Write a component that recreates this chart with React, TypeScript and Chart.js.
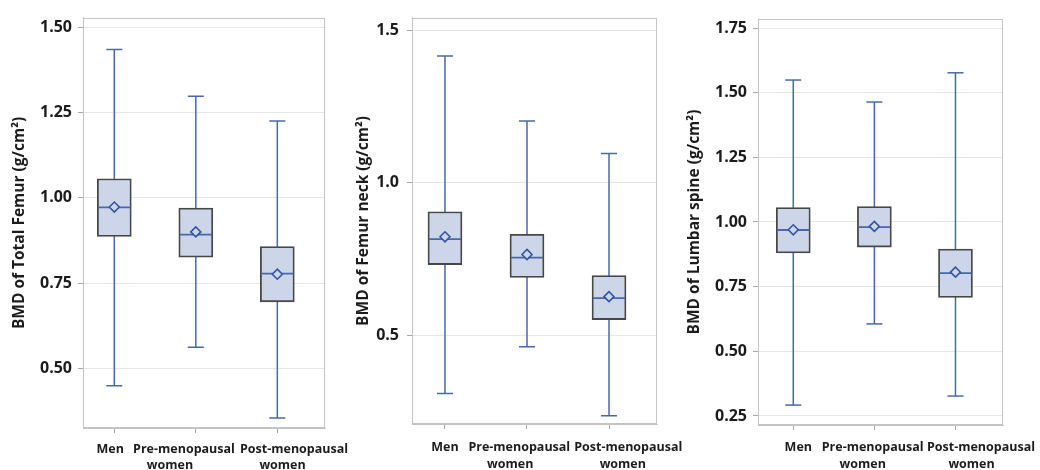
import React, { useEffect, useRef } from "react";
import { Chart, registerables } from "chart.js";

Chart.register(...registerables);

// ---- Data ----
const categories = ["Men", "Pre-menopausal women", "Post-menopausal women"];
const labelLine1 = ["Men", "Pre-menopausal", "Post-menopausal"];
const labelLine2 = ["", "women", "women"];

// BMD of Total Femur
const femurMin = [0.449, 0.562, 0.354];
const femurQ1 = [0.887, 0.826, 0.695];
const femurMedian = [0.972, 0.892, 0.778];
const femurQ3 = [1.056, 0.970, 0.857];
const femurMax = [1.435, 1.298, 1.225];
const femurMean = [0.973, 0.900, 0.776];
const femurTicks = [0.5, 0.75, 1.0, 1.25, 1.5];

// BMD of Femur neck
const neckMin = [0.310, 0.463, 0.237];
const neckQ1 = [0.732, 0.690, 0.552];
const neckMedian = [0.815, 0.755, 0.622];
const neckQ3 = [0.905, 0.831, 0.696];
const neckMax = [1.415, 1.202, 1.096];
const neckMean = [0.823, 0.765, 0.627];
const neckTicks = [0.5, 1.0, 1.5];

// BMD of Lumbar spine
const spineMin = [0.292, 0.606, 0.327];
const spineQ1 = [0.880, 0.903, 0.708];
const spineMedian = [0.969, 0.980, 0.802];
const spineQ3 = [1.056, 1.060, 0.895];
const spineMax = [1.549, 1.464, 1.577];
const spineMean = [0.970, 0.983, 0.806];
const spineTicks = [0.25, 0.5, 0.75, 1.0, 1.25, 1.5, 1.75];

// ---- Styles ----
const FONT = "'Open Sans', 'DejaVu Sans', sans-serif";
const TEXT = "#1c1c1c";
const BLUE = "#4868ad";
const BLUE_DARK = "#3553a3";
const BOX_FILL = "#cdd6e8";
const BOX_EDGE = "#474747";
const GRID = "#e6e6e6";
const FRAME = "#c4c4c4";
const TICK = "#a8a8a8";
const XFONT = 12.5;
const XLINE = 16;

type Panel = {
  title: string;
  min: number[];
  q1: number[];
  median: number[];
  q3: number[];
  max: number[];
  mean: number[];
  ticks: number[];
  decimals: number;
  yMin: number;
  yMax: number;
  xMin: number;
  xMax: number;
  line1At: number[];
  line2At: number[];
  left: number;
  width: number;
  plotLeft: number;
  plotRight: number;
  plotTop: number;
  plotBottom: number;
  line1Y: number;
  line2Y: number;
  titlePad: number;
  tickPad: number;
};

const panels: Panel[] = [
  {
    title: "BMD of Total Femur (g/cm²)",
    min: femurMin, q1: femurQ1, median: femurMedian, q3: femurQ3, max: femurMax, mean: femurMean,
    ticks: femurTicks, decimals: 2, yMin: 0.325, yMax: 1.528, xMin: -0.384, xMax: 2.585,
    line1At: [-0.05, 0.855, 2.205], line2At: [0, 0.683, 2.064],
    left: 0, width: 355, plotLeft: 83, plotRight: 325, plotTop: 17, plotBottom: 428,
    line1Y: 449.5, line2Y: 465.5,
    titlePad: 10, tickPad: 6,
  },
  {
    title: "BMD of Femur neck (g/cm²)",
    min: neckMin, q1: neckQ1, median: neckMedian, q3: neckQ3, max: neckMax, mean: neckMean,
    ticks: neckTicks, decimals: 1, yMin: 0.21, yMax: 1.54, xMin: -0.402, xMax: 2.585,
    line1At: [0.0, 0.906, 2.235], line2At: [0, 0.796, 2.168],
    left: 345, width: 350, plotLeft: 412, plotRight: 657, plotTop: 14, plotBottom: 424,
    line1Y: 447.5, line2Y: 464,
    titlePad: 9, tickPad: 8,
  },
  {
    title: "BMD of Lumbar spine (g/cm²)",
    min: spineMin, q1: spineQ1, median: spineMedian, q3: spineQ3, max: spineMax, mean: spineMean,
    ticks: spineTicks, decimals: 2, yMin: 0.215, yMax: 1.785, xMin: -0.435, xMax: 2.586,
    line1At: [0.062, 0.979, 2.315], line2At: [0, 0.856, 2.198],
    left: 680, width: 360, plotLeft: 758, plotRight: 1003, plotTop: 19, plotBottom: 425,
    line1Y: 447.5, line2Y: 464,
    titlePad: 5, tickPad: 6,
  },
];

const framePlugin = {
  id: "frame",
  beforeDatasetsDraw(chart: any) {
    const { ctx, chartArea } = chart;
    ctx.save();
    ctx.strokeStyle = FRAME;
    ctx.lineWidth = 1;
    ctx.strokeRect(
      Math.round(chartArea.left) + 0.5,
      Math.round(chartArea.top) + 0.5,
      Math.round(chartArea.right - chartArea.left) - 1,
      Math.round(chartArea.bottom - chartArea.top) - 1
    );
    ctx.restore();
  },
};

function buildConfig(p: Panel): any {
  const idx = categories.map((_, i) => i);
  const whiskerData: any[] = [];
  idx.forEach((i) => {
    whiskerData.push({ x: i, y: p.min[i] });
    whiskerData.push({ x: i, y: p.max[i] });
    whiskerData.push({ x: i, y: null });
  });
  const capData: any[] = [];
  idx.forEach((i) => {
    capData.push({ x: i, y: p.min[i] });
    capData.push({ x: i, y: p.max[i] });
  });

  const tickAxisH = 5;
  const half = XLINE / 2;
  const line1Top = p.plotBottom + tickAxisH;
  const line1Pad = p.line1Y - half - line1Top;
  const line1H = p.line2Y - half - line1Top;
  const line2H = 470 - p.plotBottom - tickAxisH - line1H;

  const noPad = (scale: any) => {
    scale.paddingLeft = 0;
    scale.paddingRight = 0;
    scale.paddingTop = 0;
    scale.paddingBottom = 0;
  };

  const labelAxis = (weight: number, at: number[], texts: string[], pad: number, h: number) => {
    const shown = idx.filter((i) => texts[i] !== "");
    return {
      type: "linear",
      position: "bottom",
      weight,
      offset: false,
      min: p.xMin,
      max: p.xMax,
      afterBuildTicks: (scale: any) => {
        scale.ticks = shown.map((i) => ({ value: at[i] }));
      },
      afterFit: (scale: any) => {
        scale.height = h;
        noPad(scale);
      },
      grid: { display: false, drawTicks: false, drawOnChartArea: false },
      border: { display: false },
      ticks: {
        autoSkip: false,
        maxRotation: 0,
        minRotation: 0,
        padding: pad,
        color: TEXT,
        font: { family: FONT, size: XFONT, weight: "bold", lineHeight: XLINE / XFONT },
        callback: (_v: any, index: number) => texts[shown[index]] ?? "",
      },
    };
  };

  return {
    type: "bar",
    data: {
      datasets: [
        {
          type: "line",
          label: "whisker",
          data: whiskerData,
          borderColor: BLUE,
          borderWidth: 1.5,
          pointRadius: 0,
          spanGaps: false,
          order: 4,
        },
        {
          type: "bar",
          label: "box",
          data: idx.map((i) => ({ x: i, y: [p.q1[i], p.q3[i]] })),
          backgroundColor: BOX_FILL,
          borderColor: BOX_EDGE,
          borderWidth: 1.8,
          borderSkipped: false,
          barThickness: 34,
          order: 3,
        },
        {
          type: "scatter",
          label: "caps",
          data: capData,
          pointStyle: "line",
          pointRadius: 8,
          borderColor: BLUE,
          borderWidth: 1.5,
          order: 2,
        },
        {
          type: "scatter",
          label: "median",
          data: idx.map((i) => ({ x: i, y: p.median[i] })),
          pointStyle: "line",
          pointRadius: 16,
          borderColor: BLUE,
          borderWidth: 1.8,
          order: 1,
        },
        {
          type: "scatter",
          label: "mean",
          data: idx.map((i) => ({ x: i, y: p.mean[i] })),
          pointStyle: "rectRot",
          pointRadius: 5,
          backgroundColor: BOX_FILL,
          borderColor: BLUE_DARK,
          borderWidth: 1.6,
          order: 0,
        },
      ],
    },
    options: {
      responsive: false,
      animation: false,
      events: [],
      layout: {
        padding: {
          top: p.plotTop,
          right: p.width - (p.plotRight - p.left),
          left: 0,
          bottom: 0,
        },
      },
      plugins: {
        legend: { display: false },
        tooltip: { enabled: false },
      },
      scales: {
        x: {
          type: "linear",
          position: "bottom",
          weight: 0,
          offset: false,
          min: p.xMin,
          max: p.xMax,
          afterBuildTicks: (scale: any) => {
            scale.ticks = idx.map((i) => ({ value: i }));
          },
          afterFit: (scale: any) => {
            scale.height = tickAxisH;
            noPad(scale);
          },
          grid: {
            offset: false,
            drawOnChartArea: false,
            drawTicks: true,
            tickLength: 5,
            tickColor: TICK,
            color: TICK,
          },
          border: { display: true, color: FRAME },
          ticks: { display: false },
        },
        xLine1: labelAxis(1, p.line1At, labelLine1, line1Pad, line1H),
        xLine2: labelAxis(2, p.line2At, labelLine2, 0, line2H),
        y: {
          type: "linear",
          min: p.yMin,
          max: p.yMax,
          afterBuildTicks: (scale: any) => {
            scale.ticks = p.ticks.map((v) => ({ value: v }));
          },
          afterFit: (scale: any) => {
            scale.width = p.plotLeft - p.left;
            noPad(scale);
          },
          grid: {
            display: true,
            color: GRID,
            lineWidth: 1,
            drawTicks: true,
            tickLength: 5,
            tickColor: TICK,
          },
          border: { display: true, color: FRAME },
          ticks: {
            padding: p.tickPad,
            color: TEXT,
            font: { family: FONT, size: 16, weight: "bold" },
            callback: (v: any) => Number(v).toFixed(p.decimals),
          },
          title: {
            display: true,
            text: p.title,
            color: TEXT,
            padding: { top: p.titlePad, bottom: 0 },
            font: { family: FONT, size: 15.5, weight: "bold", lineHeight: 1.2 },
          },
        },
      },
    },
    plugins: [framePlugin],
  };
}

function BoxPanel({ panel }: { panel: Panel }) {
  const ref = useRef<HTMLCanvasElement>(null);
  useEffect(() => {
    if (!ref.current) return;
    const chart = new Chart(ref.current, buildConfig(panel));
    return () => chart.destroy();
  }, [panel]);
  return (
    <div style={{ position: "absolute", left: panel.left, top: 0, width: panel.width, height: 470 }}>
      <canvas
        ref={ref}
        width={panel.width}
        height={470}
        style={{ display: "block", width: panel.width, height: 470 }}
      />
    </div>
  );
}

export default function App() {
  return (
    <div style={{ position: "absolute", left: 0, top: 0, width: 1040, height: 470, background: "#ffffff", overflow: "hidden" }}>
      {panels.map((p, i) => (
        <BoxPanel key={i} panel={p} />
      ))}
    </div>
  );
}
